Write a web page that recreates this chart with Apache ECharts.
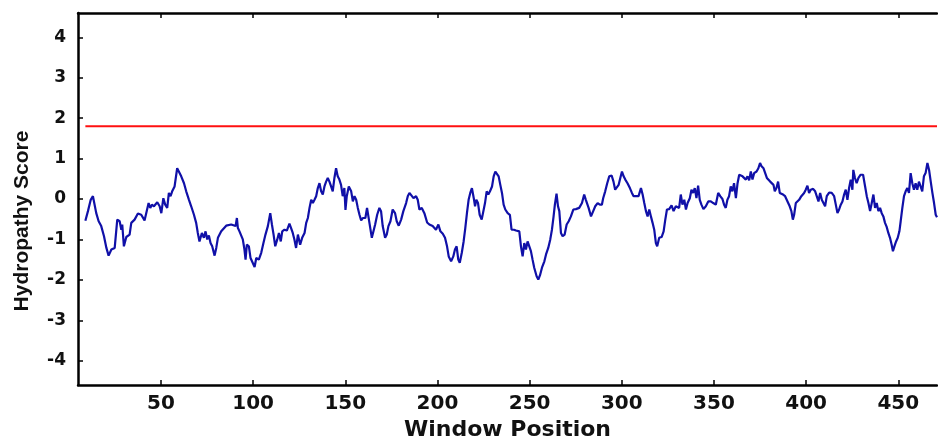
<!DOCTYPE html>
<html>
<head>
<meta charset="utf-8">
<script src="https://cdn.jsdelivr.net/npm/echarts@6/dist/echarts.min.js"></script>
<style>html,body{margin:0;padding:0;background:#fff;}#c{width:938px;height:436px;}</style>
</head>
<body>
<div id="c"></div>
<script>
var positions = [9,10.4,11.9,13.1,14,14.9,16.2,17.6,19.1,20.4,21.6,23.1,24.9,26.3,27.6,28.5,29,29.9,31.2,33,33.9,35.7,37.5,39.3,41.1,42,43.3,44.2,45.1,46.2,48,49.3,50.2,51.3,52.3,53.4,54.3,55.2,56.1,57.4,58.8,59.7,61,62.5,63.7,65.2,66.4,67.9,69.1,70,70.9,72.2,73.3,74.2,75.1,76,76.9,77.8,79.1,80,80.9,82.7,
83.6,85.4,88.1,90.5,91.2,91.7,92.6,93.5,94.4,95.3,95.9,96.6,97.7,98.6,99.5,100.8,101.7,103.1,104.4,105.6,106.7,108,109.3,110.2,111.1,112,113.1,114,115,115.8,117,118.3,119.7,120.6,121.5,122.4,123.3,124.3,125.5,126.6,127.9,128.8,129.7,130.6,131.5,132.4,133.3,134.2,135.1,136,136.9,137.8,138.7,139.6,140.5,141.4,142.3,143.2,144.1,145,145.9,146.8,147.7,148.6,149.5,150.1,150.8,151.9,153.2,154.1,155,155.9,156.8,157.7,158.6,159.5,160.9,161.8,
163.1,164.4,165.4,166.2,167.3,168.5,169.4,170.3,171.6,172.5,173.4,174.5,175.7,177,177.9,179,180.3,181.5,183,183.9,184.8,185.7,187,188.4,189.3,190.2,191.5,192.9,194.4,195.6,197.4,199.2,200.5,201.6,202.9,204.1,205.2,206.1,207.4,208.6,209.5,210.4,211.3,212.1,213.2,214.2,215.1,216,216.9,217.8,218.7,219.7,220.4,221.1,222,222.9,224,224.9,225.8,226.7,227.6,228.5,229.6,230.5,231.4,232.3,233.2,234.1,235,235.9,236.8,238.1,239.3,240.2,
241.5,242.6,244.4,245.3,246.2,247.1,248,248.9,249.8,250.7,251.6,252.5,253.8,254.7,255.6,256.7,258,258.9,260.1,261.2,262.1,263,263.7,264.6,265.4,266.1,267,267.9,269,270.1,271.2,272.4,273.7,275.1,276.9,278.4,279.6,280.5,282,283.3,284.5,285.6,286.9,288.1,289.2,289.9,291,292.1,293.2,294.5,295.5,296.4,297.4,298.3,299.2,300.1,301,301.9,303.1,304.4,305.5,306.4,307.6,309.1,310.4,311.3,312.2,313.1,314,314.9,315.8,316.7,317.6,318.5,319.2,
320.3,321.6,322.7,323.6,324.5,325.7,327,328.1,329.3,330.2,331.1,332,332.9,333.9,334.8,335.7,336.9,337.8,338.7,339.6,340.5,341.4,342.3,343.2,344.3,345.6,346.9,348.3,349.6,351,352.3,353.4,354.6,355.5,356.4,357.3,358.2,359.1,360,360.9,361.9,362.8,363.7,364.6,365.5,366.4,367.3,368.2,369.1,370,370.9,371.8,373.1,374.1,375,375.8,376.9,377.8,378.7,379.6,380.5,381.4,382.3,383,383.9,384.8,385.7,386.6,387.5,388.6,389.9,391.1,392,392.8,393.5,394.4,395.3,396.2,397.4,
398.9,399.8,400.7,401.6,402.5,403.8,404.9,405.8,406.7,407.6,408.5,409.4,410.3,411.2,412.5,413.9,415.2,416.1,417,417.9,418.8,419.7,420.6,421.5,422.4,423.3,424.2,425.1,425.6,426.5,427.4,428.4,429.6,430.9,432,432.9,433.8,434.7,435.6,436.5,437.4,438.3,439.2,440.1,441,441.9,442.8,443.7,444.6,445.5,446.4,447.1,447.9,448.8,449.7,450.6,451.3,452.2,453.1,454,454.9,455.8,456.7,457.6,458.5,459.4,460.3,461.2,462.1,463,463.9,464.8,465.8,466.7,467.6,468.5,469.4,470.3,471];

var scores = [-0.54,-0.30,-0.02,0.07,0.06,-0.35,-0.55,-0.67,-0.92,-1.21,-1.40,-1.25,-1.21,-0.51,-0.55,-0.76,-0.63,-1.17,-0.94,-0.88,-0.59,-0.51,-0.36,-0.39,-0.53,-0.55,-0.10,-0.22,-0.14,-0.18,-0.08,-0.18,-0.35,0.02,-0.14,-0.22,0.15,0.07,0.19,0.31,0.76,0.68,0.56,0.39,0.19,-0.02,-0.18,-0.39,-0.59,-0.84,-1.05,-0.84,-0.96,-0.80,-1.00,-0.90,-1.09,-1.17,-1.40,-1.21,-0.96,-0.80,
-0.76,-0.66,-0.63,-0.67,-0.47,-0.71,-0.80,-0.78,-1.00,-1.25,-1.50,-1.13,-1.17,-1.46,-1.50,-1.68,-1.46,-1.50,-1.33,-1.09,-0.88,-0.67,-0.35,-0.63,-0.88,-1.17,-1.00,-0.84,-1.05,-0.80,-0.76,-0.78,-0.61,-0.72,-0.84,-1.00,-1.21,-0.88,-1.13,-0.96,-0.84,-0.59,-0.47,-0.22,-0.02,-0.10,-0.02,0.07,0.27,0.39,0.19,0.11,0.31,0.43,0.52,0.43,0.31,0.19,0.52,0.76,0.56,0.48,0.35,0.07,0.27,-0.27,0.07,0.31,0.19,-0.06,0.07,-0.02,-0.22,-0.39,-0.53,-0.47,-0.47,-0.22,
-0.59,-0.96,-0.96,-0.63,-0.39,-0.22,-0.30,-0.67,-0.96,-0.88,-0.67,-0.55,-0.26,-0.35,-0.55,-0.66,-0.51,-0.30,-0.10,0.07,0.15,0.16,0.02,0.07,-0.02,-0.26,-0.22,-0.35,-0.58,-0.63,-0.67,-0.76,-0.63,-0.80,-0.86,-0.96,-1.17,-1.42,-1.54,-1.42,-1.25,-1.17,-1.50,-1.58,-1.33,-1.05,-0.72,-0.35,-0.02,0.15,0.27,0.02,-0.18,-0.02,-0.10,-0.39,-0.51,-0.47,-0.10,0.19,0.11,0.19,0.31,0.56,0.68,0.72,0.56,0.35,0.15,-0.14,-0.26,-0.35,-0.39,-0.76,
-0.76,-0.78,-0.80,-1.17,-1.42,-1.09,-1.25,-1.05,-1.09,-1.29,-1.50,-1.70,-1.91,-1.99,-1.89,-1.70,-1.54,-1.37,-1.21,-1.00,-0.76,-0.43,-0.14,0.13,-0.18,-0.30,-0.84,-0.92,-0.88,-0.63,-0.55,-0.43,-0.26,-0.25,-0.22,-0.10,0.11,-0.02,-0.22,-0.43,-0.30,-0.18,-0.10,-0.14,-0.14,0.02,0.19,0.39,0.56,0.58,0.43,0.23,0.27,0.35,0.52,0.68,0.56,0.48,0.39,0.27,0.15,0.07,0.07,0.07,0.27,0.11,-0.10,-0.30,-0.43,-0.26,-0.43,-0.59,-0.76,-1.09,-1.17,
-0.96,-0.94,-0.80,-0.51,-0.26,-0.25,-0.16,-0.30,-0.18,-0.14,-0.22,0.11,-0.14,-0.02,-0.26,-0.10,0.02,0.23,0.15,0.27,0.02,0.33,-0.02,-0.14,-0.25,-0.18,-0.06,-0.06,-0.10,-0.14,0.15,0.07,0.00,-0.14,-0.22,-0.02,0.07,0.31,0.19,0.39,0.02,0.39,0.60,0.64,0.56,0.60,0.48,0.56,0.46,0.68,0.48,0.64,0.68,0.76,0.89,0.81,0.76,0.64,0.52,0.56,0.43,0.43,0.35,0.19,0.27,0.43,0.15,0.19,0.11,0.07,-0.06,-0.18,-0.30,-0.51,-0.39,-0.10,-0.06,-0.02,0.07,
0.15,0.23,0.33,0.15,0.23,0.25,0.19,0.23,-0.06,0.15,-0.02,0.02,-0.18,0.07,0.16,0.15,0.07,-0.14,-0.35,-0.26,-0.14,-0.06,0.11,0.23,-0.02,0.27,0.48,0.23,0.72,0.52,0.39,0.52,0.60,0.60,0.31,0.07,-0.10,-0.30,-0.10,0.11,-0.22,-0.10,-0.30,-0.22,-0.35,-0.43,-0.59,-0.69,-0.84,-0.96,-1.13,-1.29,-1.17,-1.05,-0.96,-0.80,-0.55,-0.22,0.07,0.19,0.27,0.15,0.64,0.39,0.23,0.39,0.23,0.43,0.31,0.19,0.56,0.64,0.89,0.72,0.43,0.15,-0.10,-0.39,-0.45];

var thresholdPositions = [9, 471];
var thresholdValue = 1.8;
var xTickValues = [50,100,150,200,250,300,350,400,450];
var yTickValues = [-4,-3,-2,-1,0,1,2,3,4];

var chart = echarts.init(document.getElementById('c'), null, {renderer: 'canvas'});
var axisLineStyle = {color: '#000', width: 2.5};
chart.setOption({
  animation: false,
  backgroundColor: '#fff',
  grid: {left: 78, right: 1, top: 13, bottom: 51, containLabel: false, outerBoundsMode: 'none'},
  xAxis: [{
    type: 'value', min: 5, max: 471, position: 'bottom',
    axisLine: {show: true, onZero: false, lineStyle: axisLineStyle},
    axisTick: {show: true, inside: true, length: 5, customValues: xTickValues, lineStyle: {color: '#000', width: 1.5}},
    axisLabel: {customValues: xTickValues, color: '#111', fontFamily: 'DejaVu Sans', fontWeight: 'bold', fontSize: 20, margin: 9},
    splitLine: {show: false},
    name: 'Window Position', nameLocation: 'middle', nameGap: 30,
    nameTextStyle: {color: '#111', fontFamily: 'DejaVu Sans', fontWeight: 'bold', fontSize: 22}
  }, {
    type: 'value', min: 5, max: 471, position: 'top',
    axisLine: {show: true, onZero: false, lineStyle: axisLineStyle},
    axisTick: {show: true, inside: true, length: 5, customValues: xTickValues, lineStyle: {color: '#000', width: 1.5}},
    axisLabel: {show: false},
    splitLine: {show: false}
  }],
  yAxis: {
    type: 'value', min: -4.6, max: 4.6,
    axisLine: {show: true, onZero: false, lineStyle: axisLineStyle},
    axisTick: {show: true, inside: true, length: 5, customValues: yTickValues, lineStyle: {color: '#000', width: 1.5}},
    axisLabel: {customValues: yTickValues, color: '#111', fontFamily: 'DejaVu Sans', fontWeight: 'bold', fontSize: 17, margin: 12},
    splitLine: {show: false},
    name: 'Hydropathy Score', nameLocation: 'middle', nameGap: 45, nameRotate: 90,
    nameTextStyle: {color: '#111', fontFamily: 'Liberation Sans', fontWeight: 'bold', fontSize: 21, padding: [0, 44, 0, 0]}
  },
  series: [{
    type: 'line', xAxisIndex: 0,
    data: positions.map(function (p, i) { return [p, scores[i]]; }),
    showSymbol: false, symbol: 'none',
    lineStyle: {color: '#1010a8', width: 2.2},
    z: 3
  }, {
    type: 'line', xAxisIndex: 0,
    data: thresholdPositions.map(function (p) { return [p, thresholdValue]; }),
    showSymbol: false, symbol: 'none',
    lineStyle: {color: '#ff1010', width: 2},
    z: 2
  }]
});
</script>
</body>
</html>
